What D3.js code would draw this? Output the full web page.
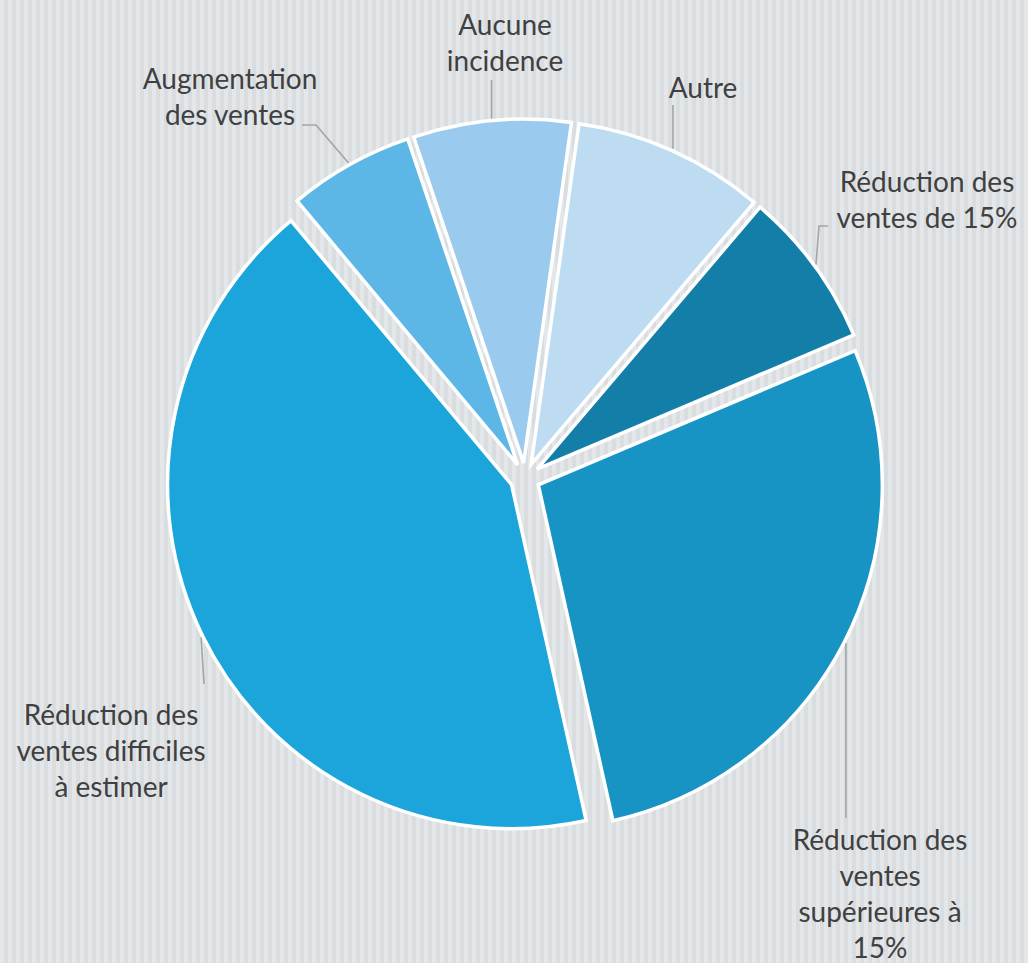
<!DOCTYPE html>
<html>
<head>
<meta charset="utf-8">
<script src="https://cdn.jsdelivr.net/npm/d3@7/dist/d3.min.js"></script>
<style>
  html, body { margin: 0; padding: 0; background: #e0e3e6; }
  svg { display: block; }
  text { font-family: Lato, "Open Sans", sans-serif; }
</style>
</head>
<body>
<svg id="chart" width="1028" height="963"></svg>
<script>
// ---- Data ----
const categories = [
  "Autre",
  "Réduction des ventes de 15%",
  "Réduction des ventes supérieures à 15%",
  "Réduction des ventes difficiles à estimer",
  "Augmentation des ventes",
  "Aucune incidence"
];
const values = [9.0, 7.4, 27.9, 42.4, 5.9, 7.4];
const labelLines = [
  ["Autre"],
  ["Réduction des", "ventes de 15%"],
  ["Réduction des", "ventes", "supérieures à", "15%"],
  ["Réduction des", "ventes difficiles", "à estimer"],
  ["Augmentation", "des ventes"],
  ["Aucune", "incidence"]
];
const colors = ["#bddbf1", "#137fa8", "#1894c4", "#1ba5da", "#5cb7e6", "#9acaed"];

// ---- Layout (positions only) ----
const W = 1028, H = 963;
const cx = 525, cy = 478, R = 344, explode = 15;
const startDeg = 8;
// label anchor: x center, first baseline, and leader elbow points (from label side)
const labelLayout = [
  { x: 703, y: 98,  leader: "vert", top: 105 },
  { x: 927, y: 192, leader: [[828, 226], [819, 226]] },
  { x: 880, y: 850, leader: "vert", top: 818 },
  { x: 111, y: 725, leader: [[204, 684]] },
  { x: 230, y: 89,  leader: [[302, 125], [316, 125]] },
  { x: 505, y: 35,  leader: "vert", top: 80 }
];
const lineH = 36;

const svg = d3.select("#chart");

// striped background
const defs = svg.append("defs");
const pat = defs.append("pattern")
  .attr("id", "stripes").attr("patternUnits", "userSpaceOnUse")
  .attr("width", 8).attr("height", 8);
pat.append("rect").attr("width", 8).attr("height", 8).attr("fill", "#e4e7e9");
pat.append("rect").attr("x", 4).attr("width", 4).attr("height", 8).attr("fill", "#d9dde0");
svg.append("rect").attr("width", W).attr("height", H).attr("fill", "url(#stripes)");

const pie = d3.pie().sort(null).value(d => d)
  .startAngle(startDeg * Math.PI / 180)
  .endAngle(startDeg * Math.PI / 180 + 2 * Math.PI);
const arcs = pie(values);
const arc = d3.arc().innerRadius(0).outerRadius(R);

const g = svg.append("g").attr("transform", `translate(${cx},${cy})`);

function offset(d) {
  const m = (d.startAngle + d.endAngle) / 2;
  return [Math.sin(m) * explode, -Math.cos(m) * explode];
}

g.selectAll("path.slice").data(arcs).enter().append("path")
  .attr("class", "slice")
  .attr("transform", d => { const o = offset(d); return `translate(${o[0]},${o[1]})`; })
  .attr("d", arc)
  .attr("fill", (d, i) => colors[i])
  .attr("stroke", "#ffffff")
  .attr("stroke-width", 3.5)
  .attr("stroke-linejoin", "miter");

// leader lines
arcs.forEach((d, i) => {
  const m = (d.startAngle + d.endAngle) / 2;
  const o = offset(d);
  const px = cx + o[0] + Math.sin(m) * (R + 2);
  const py = cy + o[1] - Math.cos(m) * (R + 2);
  const L = labelLayout[i];
  let pts;
  if (L.leader === "vert") {
    pts = [[px, L.top], [px, py]];
  } else {
    pts = L.leader.concat([[px, py]]);
  }
  svg.append("path")
    .attr("d", d3.line()(pts))
    .attr("fill", "none")
    .attr("stroke", "#a3a5a7")
    .attr("stroke-width", 1.6);
});

// labels
labelLayout.forEach((L, i) => {
  const t = svg.append("text")
    .attr("text-anchor", "middle")
    .attr("font-size", 28)
    .attr("fill", "#404040");
  labelLines[i].forEach((s, k) => {
    t.append("tspan").attr("x", L.x).attr("y", L.y + k * lineH).text(s);
  });
});
</script>
</body>
</html>
